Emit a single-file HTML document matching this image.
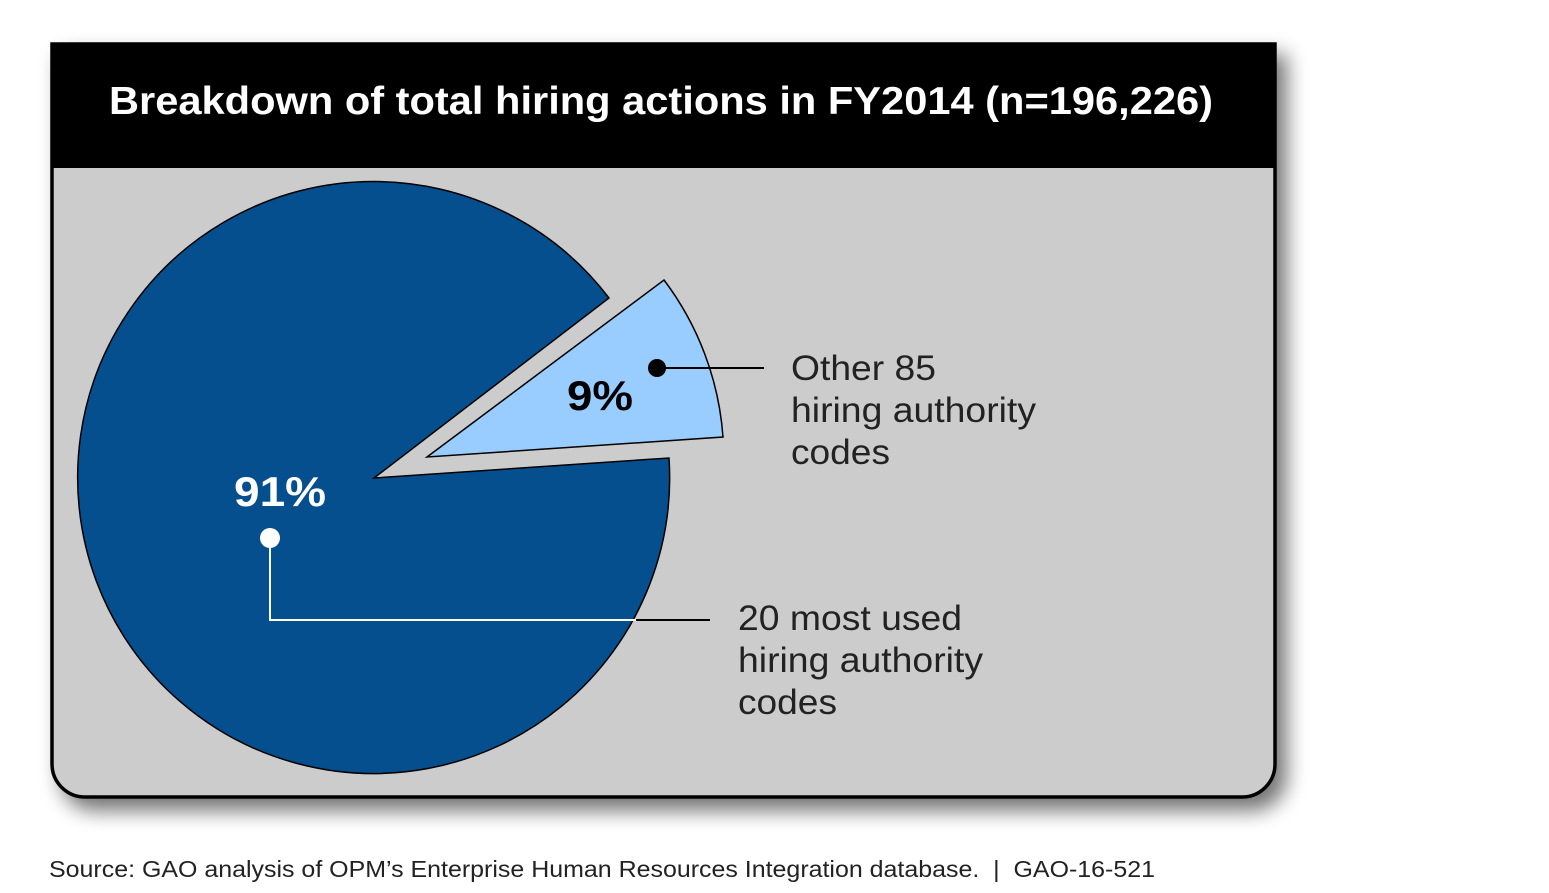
<!DOCTYPE html>
<html><head><style>
body{margin:0;background:#fff;width:1549px;height:888px;overflow:hidden;font-family:"Liberation Sans",Arial,sans-serif}
</style></head><body>
<svg width="1549" height="888" xmlns="http://www.w3.org/2000/svg">
<defs>
<filter id="sh" x="-10%" y="-10%" width="130%" height="130%">
<feGaussianBlur in="SourceAlpha" stdDeviation="10"/>
<feOffset dx="10" dy="12"/>
<feComponentTransfer><feFuncA type="linear" slope="0.55"/></feComponentTransfer>
<feMerge><feMergeNode/><feMergeNode in="SourceGraphic"/></feMerge>
</filter>
</defs>
<path d="M52,44 H1275 V764 A33,33 0 0 1 1242,797 H85 A33,33 0 0 1 52,764 Z" fill="#cccccc" stroke="#000" stroke-width="3.5" filter="url(#sh)"/>
<rect x="51" y="43" width="1225" height="125" fill="#000"/>
<text x="109" y="114" font-size="39" font-weight="bold" fill="#fff" textLength="1104" lengthAdjust="spacingAndGlyphs">Breakdown of total hiring actions in FY2014 (n=196,226)</text>
<path d="M374,478 L609,298 A296,296 0 1,0 669,458 Z" fill="#054f8f" stroke="#000" stroke-width="1.5"/>
<path d="M427,457 L664,280 A296,296 0 0,1 723,437 Z" fill="#99ccff" stroke="#000" stroke-width="1.5"/>
<text x="567" y="410" font-size="42" font-weight="bold" fill="#000" textLength="66" lengthAdjust="spacingAndGlyphs">9%</text>
<circle cx="657" cy="368" r="9" fill="#000"/>
<line x1="657" y1="368" x2="764" y2="368" stroke="#000" stroke-width="2"/>
<text font-size="35" fill="#222"><tspan x="791" y="380" textLength="145" lengthAdjust="spacingAndGlyphs">Other 85</tspan><tspan x="791" y="422" textLength="245" lengthAdjust="spacingAndGlyphs">hiring authority</tspan><tspan x="791" y="464" textLength="99" lengthAdjust="spacingAndGlyphs">codes</tspan></text>
<text x="234" y="506" font-size="42" font-weight="bold" fill="#fff" textLength="92" lengthAdjust="spacingAndGlyphs">91%</text>
<circle cx="270" cy="538" r="10" fill="#fff"/>
<polyline points="270,538 270,620 710,620" fill="none" stroke="#fff" stroke-width="2"/>
<line x1="636" y1="620" x2="710" y2="620" stroke="#000" stroke-width="2"/>
<text font-size="35" fill="#222"><tspan x="738" y="630" textLength="224" lengthAdjust="spacingAndGlyphs">20 most used</tspan><tspan x="738" y="672" textLength="245" lengthAdjust="spacingAndGlyphs">hiring authority</tspan><tspan x="738" y="714" textLength="99" lengthAdjust="spacingAndGlyphs">codes</tspan></text>
<text x="49" y="877" font-size="23" fill="#222" xml:space="preserve" textLength="1106" lengthAdjust="spacingAndGlyphs">Source: GAO analysis of OPM’s Enterprise Human Resources Integration database.  |  GAO-16-521</text>
</svg>
</body></html>
